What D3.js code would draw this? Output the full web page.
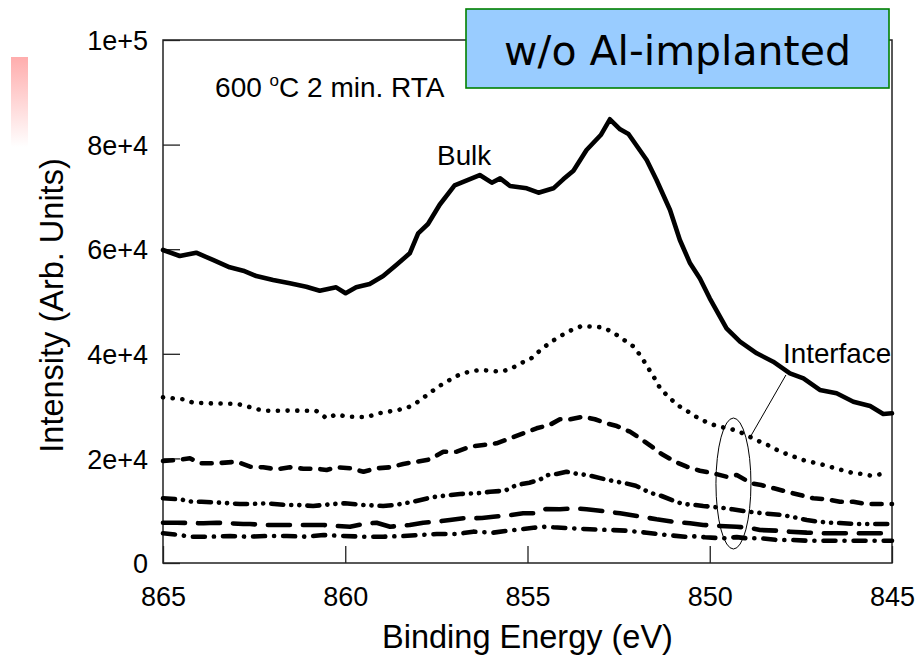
<!DOCTYPE html>
<html>
<head>
<meta charset="utf-8">
<script src="https://cdn.jsdelivr.net/npm/d3@7"></script>
<style>
  html, body { margin: 0; padding: 0; background: #fff; }
  svg { display: block; }
  text { font-family: "Liberation Sans", Arial, sans-serif; fill: #000; }
</style>
</head>
<body>
<svg id="chart" width="917" height="667"></svg>
<script>
// Ni 2p XPS spectra, 600 °C 2 min RTA, sputter depth profile (bulk -> interface)
// Each series: [binding energy (eV), intensity (arb. units)]
const bulk = [
  [865,59850],[864.54,58700],[864.09,59330],[863.63,57940],[863.17,56540],[862.8,55900],
  [862.44,54870],[861.98,54110],[861.52,53480],[861.07,52830],[860.7,52070],[860.25,52710],
  [859.99,51570],[859.7,52710],[859.33,53350],[858.96,54870],[858.6,56980],[858.23,59210],
  [858.0,63040],[857.73,64820],[857.41,68500],[857.0,72200],[856.31,74180],[855.98,72720],
  [855.75,73550],[855.48,72080],[855.02,71640],[854.7,70800],[854.29,71640],[854.02,73360],
  [853.74,75010],[853.38,78970],[852.99,81830],[852.74,84840],[852.46,82920],[852.23,82030],
  [851.73,77050],[851.46,73230],[851.09,67490],[850.82,61760],[850.54,57300],[850.27,54400],
  [850.0,50610],[849.54,44870],[849.17,42310],[848.71,40100],[848.26,38490],[847.8,36270],
  [847.43,35310],[846.98,33080],[846.52,32450],[846.06,30840],[845.6,30020],[845.24,28490],
  [845.0,28620]
];
const depth1 = [
  [865,31680],[864.44,31300],[864.17,30650],[863.6,30500],[863.0,30450],[862.75,30080],
  [862.48,29500],[862.2,29100],[861.5,29150],[860.8,29100],[860.51,27670],[860.23,28430],
  [859.96,27970],[859.41,27900],[859.09,28620],[858.55,29250],[858.27,29770],[858.0,30840],
  [857.72,32310],[857.45,33710],[857.17,34860],[856.9,35900],[856.6,36600],[856.3,36900],
  [856.03,36770],[855.75,36580],[855.48,37030],[855.19,38180],[854.91,39060],[854.64,40730],
  [854.36,42260],[854.06,43540],[853.79,44550],[853.51,45310],[853.22,45180],[852.94,45070],
  [852.66,44110],[852.39,42830],[852.11,41490],[851.89,39580],[851.71,37530],[851.53,35510],
  [851.37,33520],[851.14,31800],[850.86,30080],[850.59,28930],[850.31,27670],[850.02,26710],
  [849.75,26060],[849.47,25750],[849.19,25110],[848.91,24150],[848.62,23190],[848.35,22370],
  [848.07,21280],[847.8,20650],[847.52,19830],[847.25,19370],[846.97,18930],[846.65,18300],
  [846.38,17780],[846.11,17270],[845.83,17020],[845.56,16690],[845.27,17020]
];
const depth2 = [
  [865,19500],[864.62,19690],[864.26,20020],[863.98,19060],[863.53,19060],[862.98,19370],
  [862.61,18410],[862.25,18300],[861.88,17920],[861.52,18300],[861.15,18030],[860.78,18030],
  [860.51,17780],[860.23,18300],[859.87,18110],[859.5,17460],[859.14,18110],[858.77,18300],
  [858.41,18930],[858.04,19370],[857.67,19830],[857.31,21280],[856.94,21280],[856.58,22240],
  [856.21,22560],[855.85,22890],[855.48,23840],[855.12,24800],[854.75,25750],[854.38,26450],
  [854.11,27480],[853.83,27480],[853.47,27970],[853.15,27480],[852.83,26710],[852.55,26190],
  [852.19,25110],[851.91,23840],[851.59,22240],[851.32,20840],[850.95,19370],[850.63,18410],
  [850.27,17650],[849.9,17150],[849.54,16500],[849.26,16830],[848.86,15240],[848.59,14910],
  [848.24,14280],[847.89,13630],[847.52,13000],[847.16,12370],[846.79,12180],[846.43,11720],
  [846.06,11720],[845.7,11280],[845.33,11280],[845.0,11280]
];
const depth3 = [
  [865,12370],[864.53,12180],[864.21,11720],[863.94,11720],[863.44,11530],[862.89,11280],
  [862.61,11280],[862.15,11410],[861.61,11090],[861.33,11090],[860.88,10900],[860.3,11300],
  [860.01,11410],[859.5,11090],[858.96,10900],[858.64,11090],[858.13,11720],[857.63,12560],
  [857.35,12810],[856.85,13190],[856.3,13380],[856.03,13630],[855.62,13820],[855.3,14910],
  [854.95,15350],[854.68,15870],[854.43,16830],[854.2,17020],[853.93,17460],[853.63,17020],
  [853.36,16830],[852.87,16000],[852.55,15540],[852.31,15240],[852.03,14780],[851.64,13440],
  [851.32,12810],[851.0,11910],[850.73,11280],[850.4,11090],[850.18,10900],[849.67,10560],
  [849.38,10270],[848.94,9810],[848.53,9500],[848.03,9180],[847.75,8850],[847.34,8220],
  [847.02,7900],[846.7,7710],[846.43,7650],[846.02,7460],[845.65,7460],[845.38,7460],[845.05,7460]
];
const depth4 = [
  [865,7710],[864.62,7710],[863.89,7590],[863.53,7710],[862.8,7460],[862.61,7460],
  [862.25,7270],[861.52,7270],[861.15,7270],[860.6,7270],[860.23,7070],[859.87,6940],
  [859.5,7460],[859.14,7710],[858.77,6940],[858.23,7270],[857.86,7710],[857.49,7900],
  [857.13,8220],[856.76,8550],[856.25,8600],[855.94,8850],[855.45,9180],[855.12,9500],
  [854.84,9500],[854.75,9810],[854.5,10300],[854.11,10270],[853.7,10460],[853.38,10270],
  [853.01,10000],[852.46,9500],[852.0,8990],[851.46,8360],[851.0,7900],[850.54,7590],
  [850.18,7270],[849.72,7070],[849.26,6940],[848.9,6700],[848.62,6310],[848.16,6180],
  [847.8,5990],[847.34,5800],[846.79,5680],[846.43,5680],[845.97,5680],[845.51,5680],[845.0,5680]
];
const depth5 = [
  [865,5680],[864.53,5350],[864.26,5030],[863.71,5030],[863.16,5160],[862.7,5030],
  [862.15,5160],[861.6,5160],[861.1,5030],[860.6,5350],[860.05,5160],[859.5,5030],
  [858.96,5030],[858.41,5160],[857.95,5350],[857.49,5540],[856.94,5540],[856.49,5990],
  [855.94,5800],[855.45,6250],[854.84,6730],[854.48,6940],[854.29,6830],[853.79,6630],
  [853.29,6440],[852.74,6310],[852.28,6180],[851.73,5800],[851.18,5350],[850.68,5030],
  [850.4,5100],[850.13,4910],[849.63,4720],[849.26,4950],[848.99,4720],[848.57,4720],
  [848.16,4400],[847.75,4400],[847.3,4260],[846.88,4260],[846.43,4260],[845.6,4260],[845.0,4260]
];

const xTicks = [865, 860, 855, 850, 845];
const yTicks = [0, 20000, 40000, 60000, 80000, 100000];
const yTickLabels = ["0", "2e+4", "4e+4", "6e+4", "8e+4", "1e+5"];

const W = 917, H = 667;
const margin = { left: 163, right: 25, top: 40, bottom: 104 };
const svg = d3.select("#chart");

const x = d3.scaleLinear().domain([865, 845]).range([margin.left, W - margin.right]);
const y = d3.scaleLinear().domain([0, 100000]).range([H - margin.bottom, margin.top]);

// faded accent bar at the far left
const defs = svg.append("defs");
const grad = defs.append("linearGradient").attr("id", "accent")
  .attr("x1", 0).attr("y1", 0).attr("x2", 0).attr("y2", 1);
grad.append("stop").attr("offset", "0%").attr("stop-color", "#ffadad");
grad.append("stop").attr("offset", "100%").attr("stop-color", "#ffffff");
svg.append("rect").attr("x", 11).attr("y", 57).attr("width", 17).attr("height", 90)
  .attr("fill", "url(#accent)");

// axes with inward ticks
const xAxis = d3.axisBottom(x).tickValues(xTicks).tickFormat(d3.format("d"))
  .tickSizeInner(-17).tickSizeOuter(0).tickPadding(24);
const yAxis = d3.axisLeft(y).tickValues(yTicks)
  .tickFormat((d, i) => yTickLabels[i])
  .tickSizeInner(-17).tickSizeOuter(0).tickPadding(15);

const gx = svg.append("g").attr("transform", `translate(0,${y(0)})`).call(xAxis);
const gy = svg.append("g").attr("transform", `translate(${x(865)},0)`).call(yAxis);
[gx, gy].forEach(g => {
  g.select(".domain").remove();
  g.selectAll(".tick line").attr("stroke", "#222").attr("stroke-width", 1.3);
  g.selectAll(".tick text").style("font-family", '"Liberation Sans", Arial, sans-serif')
    .style("font-size", "27px").attr("fill", "#000");
});
gy.selectAll(".tick text").attr("dy", "0.36em");

// plot frame
svg.append("rect")
  .attr("x", x(865)).attr("y", y(100000))
  .attr("width", x(845) - x(865)).attr("height", y(0) - y(100000))
  .attr("fill", "none").attr("stroke", "#222").attr("stroke-width", 1.5);

// axis titles
svg.append("text")
  .attr("x", (x(865) + x(845)) / 2).attr("y", 648)
  .attr("text-anchor", "middle").style("font-size", "32.5px")
  .text("Binding Energy (eV)");
svg.append("text")
  .attr("transform", `translate(63,${(y(0) + y(100000)) / 2 + 4}) rotate(-90)`)
  .attr("text-anchor", "middle").style("font-size", "32.5px")
  .text("Intensity (Arb. Units)");

// spectra
const line = d3.line().x(d => x(d[0])).y(d => y(d[1]));
const seriesList = [
  { data: bulk,   dash: null },
  { data: depth1, dash: "0.1 9.6" },
  { data: depth2, dash: "10 10" },
  { data: depth3, dash: "12 8 0.1 8 0.1 8" },
  { data: depth4, dash: "22 13" },
  { data: depth5, dash: "12 9 0.1 9" }
];
svg.append("g").selectAll("path").data(seriesList).join("path")
  .attr("d", s => line(s.data))
  .attr("fill", "none").attr("stroke", "#000")
  .attr("stroke-width", 4.6)
  .attr("stroke-linecap", "round").attr("stroke-linejoin", "round")
  .attr("stroke-dasharray", s => s.dash);

// annotations
svg.append("text").attr("x", x(857.48)).attr("y", y(76100))
  .style("font-size", "27.8px").text("Bulk");

const cond = svg.append("text").attr("x", x(863.57)).attr("y", y(89100))
  .style("font-size", "28px");
cond.append("tspan").text("600 ");
cond.append("tspan").attr("dy", -11).style("font-size", "17px").text("o");
cond.append("tspan").attr("dy", 11).text("C 2 min. RTA");

svg.append("ellipse")
  .attr("cx", x(849.35)).attr("cy", y(15200))
  .attr("rx", 17.5).attr("ry", 65.5)
  .attr("fill", "none").attr("stroke", "#000").attr("stroke-width", 1);
svg.append("line")
  .attr("x1", x(847.91)).attr("y1", y(35950))
  .attr("x2", x(848.92)).attr("y2", y(23710))
  .attr("stroke", "#000").attr("stroke-width", 1);
svg.append("text").attr("x", x(847.99)).attr("y", y(38240))
  .style("font-size", "27.8px").text("Interface");

// title box
svg.append("rect").attr("x", 466).attr("y", 9).attr("width", 423).attr("height", 79)
  .attr("fill", "#99ccff").attr("stroke", "#008000").attr("stroke-width", 1.6);
svg.append("text").attr("x", 677.5).attr("y", 65)
  .attr("text-anchor", "middle")
  .style("font-family", '"DejaVu Sans", Verdana, sans-serif')
  .style("font-size", "41px")
  .text("w/o Al-implanted");
</script>
</body>
</html>
